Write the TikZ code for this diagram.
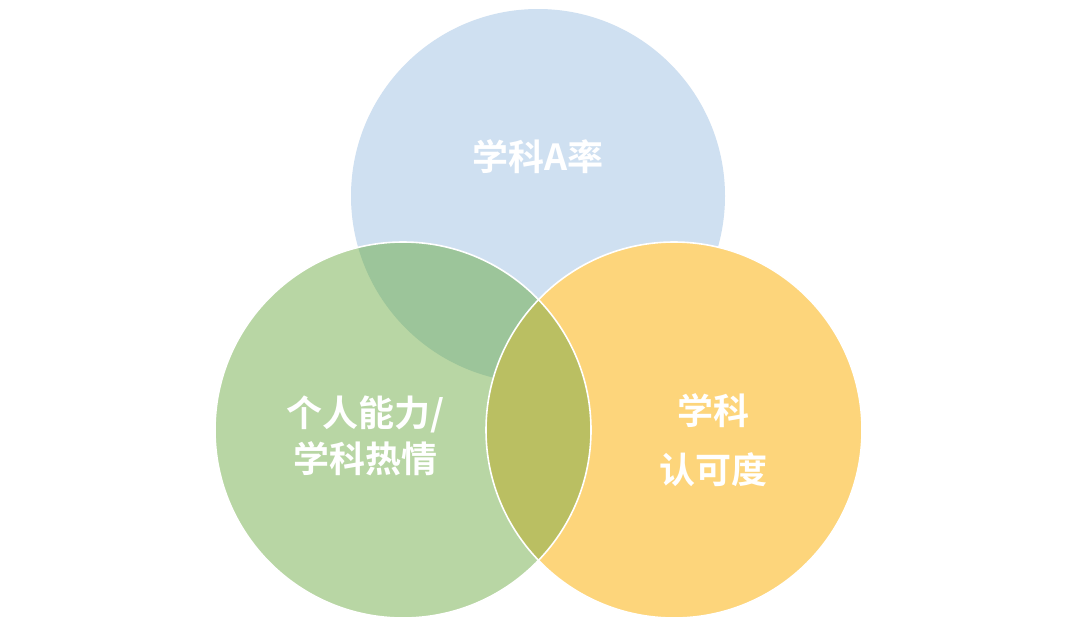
\documentclass[tikz,border=0pt]{standalone}
\usepackage{fontspec}
\newfontfamily\cjk{Noto Sans CJK SC Bold}
\definecolor{cblue}{HTML}{CFE0F1}
\definecolor{cgreen}{HTML}{B8D6A4}
\definecolor{cyellow}{HTML}{FDD57B}
\definecolor{cbg}{HTML}{9CC59A}
\definecolor{cgy}{HTML}{BABF62}
\begin{document}
\begin{tikzpicture}[x=0.75pt,y=-0.75pt,
  lbl/.style={text=white,font=\cjk\fontsize{27}{34}\selectfont,align=center}]
\useasboundingbox (0,0) rectangle (1078,628);
\fill[white] (0,0) rectangle (1078,628);
\def\B{(538,196) circle[radius=187]}
\def\G{(403,430) circle[radius=188]}
\def\Y{(674,430) circle[radius=188]}
\fill[cblue] \B;
\fill[cgreen] \G;
\begin{scope}\clip \B; \fill[cbg] \G; \end{scope}
\fill[cyellow] \Y;
\begin{scope}\clip \G; \fill[cgy] \Y; \end{scope}
\draw[white,line width=1.2pt] \G;
\draw[white,line width=1.2pt] \Y;
\node[lbl] (a) at (538,157) {学科A率};
\node[lbl] (b) at (365,436) {个人能力/\\学科热情};
\node[lbl] (c) at (713,440) {学科\\[10pt]认可度};
\end{tikzpicture}
\end{document}
